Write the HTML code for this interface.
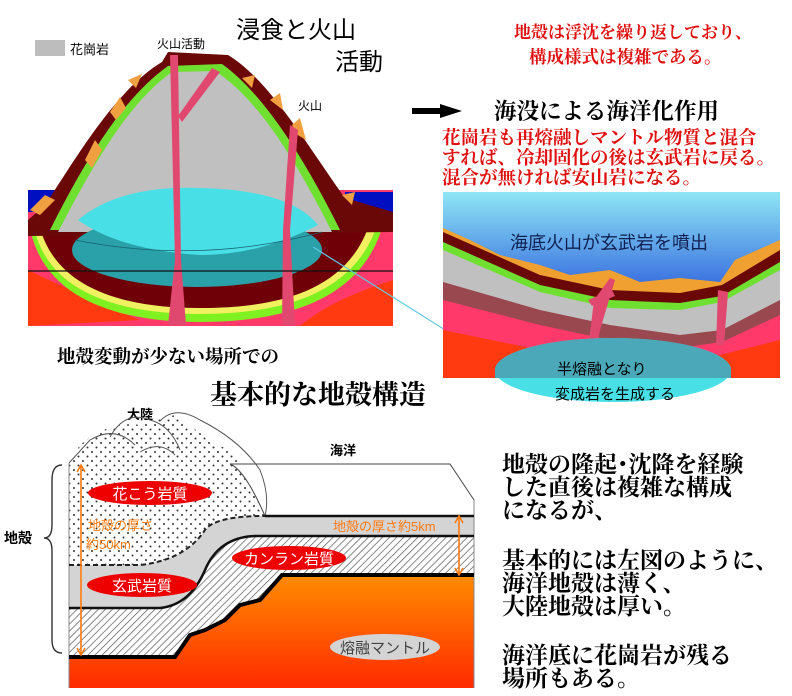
<!DOCTYPE html>
<html><head><meta charset="utf-8"><style>
body{margin:0;background:#fff}
svg{display:block}
text{font-family:"Liberation Sans","Noto Sans CJK JP",sans-serif}
.s{font-family:"Liberation Serif","Noto Serif CJK JP",serif;font-weight:bold}
</style></head><body>
<svg width="792" height="696" viewBox="0 0 792 696" xmlns="http://www.w3.org/2000/svg">
<defs>
<pattern id="dots" width="9" height="9" patternUnits="userSpaceOnUse"><rect width="9" height="9" fill="#fff"/><circle cx="2" cy="2" r="1" fill="#333"/><circle cx="6.5" cy="6.5" r="1" fill="#333"/></pattern>
<pattern id="hatch" width="5" height="5" patternUnits="userSpaceOnUse" patternTransform="rotate(45)"><rect width="5" height="5" fill="#fff"/><line x1="0" y1="0" x2="0" y2="5" stroke="#555" stroke-width="1.4"/></pattern>
<linearGradient id="mant" x1="0" y1="0" x2="0" y2="1"><stop offset="0" stop-color="#ff8c00"/><stop offset="1" stop-color="#ff2a00"/></linearGradient>
<linearGradient id="sea" x1="0" y1="0" x2="0" y2="1"><stop offset="0" stop-color="#8fe6f5"/><stop offset="0.5" stop-color="#3a70e0"/><stop offset="1" stop-color="#2240e0"/></linearGradient>
<clipPath id="c1"><rect x="28" y="40" width="365" height="286"/></clipPath>
<clipPath id="c2"><rect x="443" y="192" width="337" height="186"/></clipPath>
</defs>

<!-- ===== top-left volcano ===== -->
<g clip-path="url(#c1)">
<rect x="28" y="190" width="365" height="136" fill="#ff3a6a"/>
<rect x="28" y="190" width="30" height="22" fill="#0010c0"/>
<rect x="345" y="192" width="48" height="22" fill="#0010c0"/>
<path d="M28 270 Q90 300 140 320 L28 326Z" fill="#ff3a10"/>
<path d="M393 280 Q330 300 300 326 L393 326Z" fill="#ff3a10"/>
<!-- bowl -->
<path d="M30 228 C45 305 130 322 200 322 C285 322 360 300 382 228Z" fill="#7ff020"/>
<path d="M34 228 C50 298 130 314 200 314 C280 314 352 295 376 228Z" fill="#f0f060"/>
<path d="M40 228 C58 292 130 308 200 308 C280 308 345 290 368 228Z" fill="#700008"/>
<!-- mountain dome -->
<path d="M28 220 L45 205 C75 160 115 90 162 62 L168 52 L228 55 C270 80 310 150 345 198 L393 212 L393 232 L28 236Z" fill="#6a0808"/>
<path d="M50 230 C80 170 120 100 168 66 L222 64 C265 95 305 160 340 230Z" fill="#70e030"/>
<path d="M58 232 C88 175 125 105 172 72 L215 71 C260 100 298 165 332 232Z" fill="#c0c0c0"/>
<ellipse cx="197" cy="250" rx="125" ry="37" fill="#2aa0a8"/>
<path d="M78 220 Q120 185 200 188 Q290 190 318 225 Q260 255 200 255 Q120 250 78 220Z" fill="#48e0e6"/>
<path d="M75 240 Q200 265 322 232" fill="none" stroke="#1a6070" stroke-width="0.8"/>
<path d="M30 210 L45 195 L55 200 L40 215Z M85 160 L95 140 L102 150 L92 168Z M110 112 L120 97 L126 108 L116 120Z M128 80 L142 74 L136 88Z M242 78 L255 75 L252 88Z M270 100 L280 93 L283 110Z M292 125 L300 118 L306 140 L296 134Z M342 195 L355 192 L352 205Z" fill="#f0a040"/>
<!-- dikes -->
<path d="M170 55 L178 55 L181 260 L186 325 L168 325 L175 260Z" fill="#e04870"/>
<path d="M212 68 L220 72 L182 122 L178 116Z" fill="#e04870"/>
<path d="M290 125 L298 130 L290 230 L295 325 L282 325 L283 230Z" fill="#e04870"/>
<line x1="28" y1="271" x2="393" y2="271" stroke="#111" stroke-width="1.2"/>
</g>
<line x1="313" y1="247" x2="520" y2="377" stroke="#60c8e0" stroke-width="1.2"/>
<rect x="35" y="40" width="30" height="16" fill="#bdbdbd"/>
<text x="70" y="54" font-size="13">花崗岩</text>
<text x="157" y="48" font-size="12">火山活動</text>
<text x="298" y="110" font-size="12">火山</text>
<text x="236" y="38" font-size="24">浸食と火山</text>
<text x="335" y="70" font-size="24">活動</text>

<!-- ===== top-right ===== -->
<text x="514" y="38" font-size="17" class="s" fill="#e01010">地殻は浮沈を繰り返しており、</text>
<text x="529" y="63" font-size="17.5" class="s" fill="#e01010">構成様式は複雑である。</text>
<path d="M412 108 L440 108 L440 104 L462 111 L440 118 L440 114 L412 114Z" fill="#000"/>
<text x="494" y="119" font-size="22.5" class="s">海没による海洋化作用</text>
<text x="442" y="144" font-size="18.5" class="s" fill="#e01010">花崗岩も再熔融しマントル物質と混合</text>
<text x="442" y="164" font-size="18.5" class="s" fill="#e01010">すれば、冷却固化の後は玄武岩に戻る。</text>
<text x="442" y="184" font-size="18.5" class="s" fill="#e01010">混合が無ければ安山岩になる。</text>

<g clip-path="url(#c2)">
<rect x="443" y="192" width="337" height="186" fill="url(#sea)"/>
<path d="M443 228 L470 240 L500 255 L540 265 L570 275 L610 270 L640 282 L680 278 L720 282 L735 260 L780 240 L780 378 L443 378Z" fill="#f0a030"/>
<path d="M443 232 L540 275 L610 290 L680 293 L722 285 L780 250 L780 378 L443 378Z" fill="#6a0808"/>
<path d="M443 242 L540 285 L610 300 L680 303 L722 296 L780 262 L780 378 L443 378Z" fill="#70e030"/>
<path d="M443 250 L540 292 L610 308 L680 310 L722 302 L780 270 L780 378 L443 378Z" fill="#c0c0c0"/>
<path d="M443 282 L540 310 L610 325 L680 335 L722 330 L780 300 L780 378 L443 378Z" fill="#9a4850"/>
<path d="M443 300 L540 325 L610 340 L680 348 L722 342 L780 315 L780 378 L443 378Z" fill="#ff3a6a"/>
<path d="M443 330 L540 350 L600 378 L443 378Z M780 340 L700 360 L680 378 L780 378Z" fill="#ff3a10"/>
<path d="M610 278 L615 280 L600 330 L596 350 L588 350 L594 300Z M588 300 L612 290 L615 296 L592 306Z" fill="#e04870"/>
<path d="M718 290 L728 292 L724 345 L716 345Z" fill="#e04870"/>
</g>
<ellipse cx="613" cy="370" rx="118" ry="32" fill="#48e0e6"/>
<path d="M495 370 A118 32 0 0 1 731 370 L731 378 L495 378Z" fill="#4aa8b8"/>
<text x="510" y="249" font-size="18" fill="#102050">海底火山が玄武岩を噴出</text>
<text x="557" y="374" font-size="15">半熔融となり</text>
<text x="555" y="399" font-size="15">変成岩を生成する</text>

<!-- ===== bottom-left crust ===== -->
<text x="57" y="363" font-size="18.5" class="s">地殻変動が少ない場所での</text>
<text x="210" y="404" font-size="27" class="s">基本的な地殻構造</text>
<text x="127" y="419" font-size="13" font-weight="bold">大陸</text>
<text x="330" y="455" font-size="13" font-weight="bold">海洋</text>

<rect x="69" y="575" width="405" height="113" fill="url(#mant)"/>
<path d="M69 608 L160 608 Q190 605 205 570 Q220 535 260 536 L474 536 L474 575 L282 575 L260 600 L240 605 L225 620 L205 630 L190 635 L175 657 L69 657Z" fill="url(#hatch)"/>
<path d="M69 565 L140 565 Q185 560 205 530 Q215 516 260 516 L474 516 L474 536 L260 536 Q220 535 205 570 Q190 605 160 608 L69 608Z" fill="#d4d4d4"/>
<path d="M69 463 L80 445 Q110 420 140 425 L175 415 L210 440 Q240 455 245 470 L265 516 L240 516 Q215 516 205 530 Q185 560 140 565 L69 565Z" fill="url(#dots)"/>
<path d="M230 464 L450 464 L474 500 L474 516 L265 516 Q245 470 230 464Z" fill="#fff" stroke="#444" stroke-width="1"/>
<path d="M69 463 L90 440 Q115 425 135 445 M110 437 Q125 410 150 420 Q170 425 180 450 M160 421 Q175 405 200 420 Q240 440 260 470 Q270 495 265 516 M140 452 Q160 440 175 455" fill="none" stroke="#555" stroke-width="1"/>
<path d="M69 463 L69 688 M474 500 L474 688" stroke="#888" stroke-width="1" fill="none"/>
<path d="M69 565 L140 565 Q185 560 205 530 Q215 516 265 516" fill="none" stroke="#222" stroke-width="2" stroke-dasharray="5,3"/>
<path d="M265 516 L474 516 M260 536 L474 536" stroke="#111" stroke-width="2.5"/>
<path d="M69 608 L160 608 Q190 605 205 570 Q220 535 260 536" fill="none" stroke="#111" stroke-width="2.5"/>
<path d="M69 657 L175 657 L190 635 L205 630 L225 620 L240 605 L260 600 L282 575 L474 575" fill="none" stroke="#000" stroke-width="4"/>
<g stroke="#ff7a10" stroke-width="1.6" fill="none">
<line x1="81" y1="467" x2="81" y2="653"/><path d="M77 472 L81 465 L85 472 M77 648 L81 655 L85 648"/>
<line x1="459" y1="518" x2="459" y2="573"/><path d="M455 523 L459 516 L463 523 M455 568 L459 575 L463 568"/>
</g>
<text x="88" y="530" font-size="13" fill="#ff7a10">地殻の厚さ</text>
<text x="86" y="549" font-size="13" fill="#ff7a10">約50km</text>
<text x="333" y="531" font-size="13" fill="#ff7a10">地殻の厚さ約5km</text>
<ellipse cx="150" cy="493" rx="62" ry="12" fill="#ee0000"/>
<text x="150" y="499" font-size="15" fill="#fff" text-anchor="middle">花こう岩質</text>
<ellipse cx="142" cy="585" rx="55" ry="12" fill="#ee0000"/>
<text x="142" y="591" font-size="15" fill="#fff" text-anchor="middle">玄武岩質</text>
<ellipse cx="289" cy="558" rx="57" ry="12" fill="#ee0000"/>
<text x="289" y="564" font-size="15" fill="#fff" text-anchor="middle">カンラン岩質</text>
<ellipse cx="385" cy="647" rx="55" ry="13" fill="#d4d4d4"/>
<text x="385" y="653" font-size="15" fill="#444" text-anchor="middle">熔融マントル</text>
<path d="M62 465 Q52 465 52 480 L52 525 Q52 538 44 538 Q52 538 52 551 L52 640 Q52 653 62 653" fill="none" stroke="#333" stroke-width="1.4"/>
<text x="4" y="543" font-size="14" font-weight="bold">地殻</text>

<!-- ===== bottom-right text ===== -->
<g font-size="23">
<text x="502" y="472" class="s">地殻の隆起･沈降を経験</text>
<text x="502" y="495" class="s">した直後は複雑な構成</text>
<text x="502" y="518" class="s">になるが、</text>
<text x="502" y="568" class="s">基本的には左図のように、</text>
<text x="502" y="591" class="s">海洋地殻は薄く、</text>
<text x="502" y="614" class="s">大陸地殻は厚い。</text>
<text x="502" y="663" class="s">海洋底に花崗岩が残る</text>
<text x="502" y="686" class="s">場所もある。</text>
</g>
</svg>
</body></html>
